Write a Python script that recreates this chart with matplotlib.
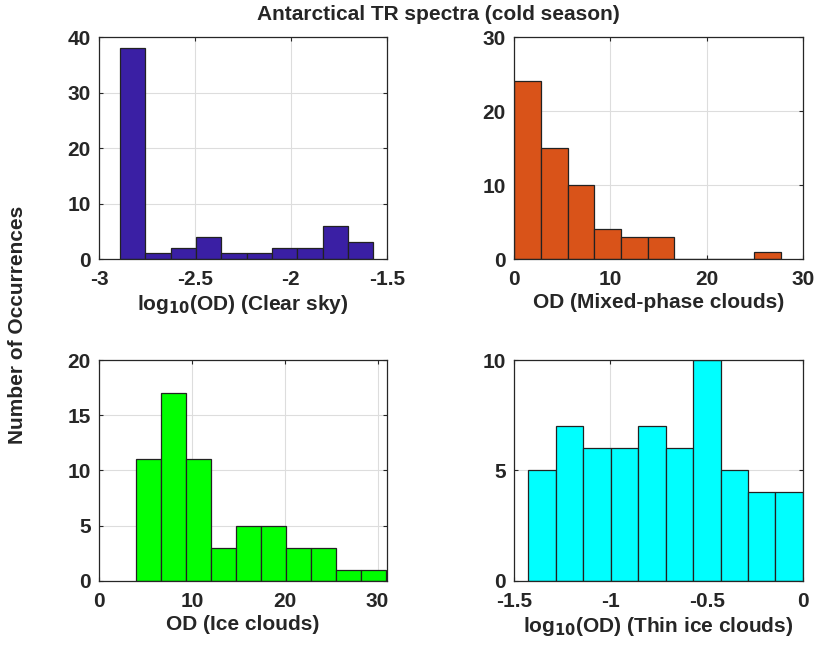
import matplotlib.pyplot as plt
import numpy as np

plt.rcParams['font.family'] = ['Liberation Sans', 'DejaVu Sans']
plt.rcParams['font.weight'] = 'bold'
plt.rcParams['mathtext.default'] = 'bf'

# histogram counts, bin ranges
clear_counts = [38, 1, 2, 4, 1, 1, 2, 2, 6, 3]
clear_range = (-2.89, -1.57)
mixed_counts = [24, 15, 10, 4, 3, 3, 0, 0, 0, 1]
mixed_range = (0.02, 27.72)
ice_counts = [11, 17, 11, 3, 5, 5, 3, 3, 1, 1]
ice_range = (4.02, 30.9)
thin_counts = [5, 7, 6, 6, 7, 6, 10, 5, 4, 4]
thin_range = (-1.427, 0.0)

panels = [
    (clear_counts, clear_range, "#3a1fa4", (-3, -1.5), [-3, -2.5, -2, -1.5], ["-3", "-2.5", "-2", "-1.5"],
     (0, 40), [0, 10, 20, 30, 40], r"log$_{\mathbf{10}}$(OD) (Clear sky)"),
    (mixed_counts, mixed_range, "#d95319", (0, 30), [0, 10, 20, 30], ["0", "10", "20", "30"],
     (0, 30), [0, 10, 20, 30], "OD (Mixed-phase clouds)"),
    (ice_counts, ice_range, "#00ff00", (0, 31), [0, 10, 20, 30], ["0", "10", "20", "30"],
     (0, 20), [0, 5, 10, 15, 20], "OD (Ice clouds)"),
    (thin_counts, thin_range, "#00ffff", (-1.5, 0), [-1.5, -1, -0.5, 0], ["-1.5", "-1", "-0.5", "0"],
     (0, 10), [0, 5, 10], r"log$_{\mathbf{10}}$(OD) (Thin ice clouds)"),
]

positions = [
    [0.1213, 0.6015, 0.3527, 0.3415],
    [0.6300, 0.6015, 0.3540, 0.3415],
    [0.1213, 0.1066, 0.3527, 0.3394],
    [0.6300, 0.1066, 0.3540, 0.3394],
]

fig = plt.figure(figsize=(8.16, 6.5), dpi=100)

for pos, (counts, rng, color, xlim, xt, xtl, ylim, yt, xlabel) in zip(positions, panels):
    ax = fig.add_axes(pos)
    edges = np.linspace(rng[0], rng[1], len(counts) + 1)
    ax.bar(edges[:-1], counts, width=np.diff(edges), align="edge",
           color=color, edgecolor="#222222", linewidth=0.9, zorder=3)
    ax.set_xlim(*xlim)
    ax.set_ylim(*ylim)
    ax.set_xticks(xt)
    ax.set_xticklabels(xtl)
    ax.set_yticks(yt)
    ax.grid(True, color="#dddddd", linewidth=0.8, zorder=0)
    ax.tick_params(direction="in", length=3, labelsize=15, top=True, right=True,
                   colors="#262626")
    ax.tick_params(axis="x", pad=8)
    ax.tick_params(axis="y", pad=6)
    for lab in ax.get_xticklabels() + ax.get_yticklabels():
        lab.set_fontweight("bold")
    for s in ax.spines.values():
        s.set_linewidth(0.9)
        s.set_color("#262626")
        s.set_zorder(4)
    ax.set_xlabel(xlabel, fontsize=15, fontweight="bold", color="#262626", labelpad=3)

fig.text(0.537, 0.978, "Antarctical TR spectra (cold season)", ha="center", va="center",
         fontsize=15, fontweight="bold", color="#262626")
fig.text(0.022, 0.5, "Number of Occurrences", ha="center", va="center", rotation=90,
         fontsize=15, fontweight="bold", color="#262626")

plt.savefig("out.png", dpi=100)
